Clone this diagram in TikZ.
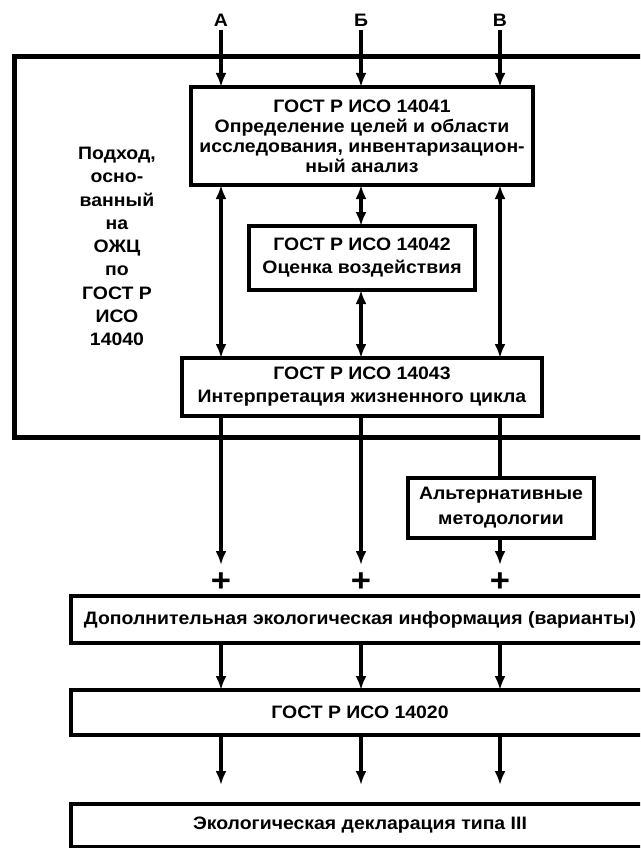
\documentclass[tikz,border=0pt]{standalone}
\usepackage{fontspec}
\setmainfont{Liberation Sans}[FakeStretch=1.08]
\usetikzlibrary{arrows.meta}
\begin{document}
\begin{tikzpicture}[x=1pt,y=-1pt,
  txt/.style={font=\fontsize{18}{20}\selectfont\bfseries, align=center},
  txtw/.style={font=\fontsize{18}{23}\selectfont\bfseries, align=center},
  box/.style={draw, line width=4pt, inner sep=0pt, outer sep=0pt},
  ln/.style={line width=4pt},
  arr/.style={ln, -{Latex[length=14pt,width=11pt]}},
  darr/.style={ln, {Latex[length=14pt,width=11pt]}-{Latex[length=14pt,width=11pt]}},
  plus/.style={font=\fontsize{32}{32}\selectfont\bfseries, inner sep=0pt}
]
\useasboundingbox (0,0) rectangle (640,848);
\clip (0,0) rectangle (640,848);
\fill[white] (0,0) rectangle (640,848);
% outer frame
\draw[line width=5pt] (14,57) rectangle (706,437);
\node[font=\fontsize{18}{23.3}\selectfont\bfseries, align=center] (left) at (117,246.5)
  {Подход,\\осно-\\ванный\\на\\ОЖЦ\\по\\ГОСТ Р\\ИСО\\14040};
% labels
\node[txt] (la) at (221,20) {А};
\node[txt] (lb) at (361,20) {Б};
\node[txt] (lc) at (500,20) {В};
% boxes
\node[box, txt, minimum width=342pt, minimum height=98pt] (b1) at (362,136)
  {ГОСТ Р ИСО 14041\\Определение целей и области\\исследования, инвентаризацион-\\ный анализ};
\node[box, txtw, minimum width=226pt, minimum height=64pt] (b2) at (362,258)
  {ГОСТ Р ИСО 14042\\Оценка воздействия};
\node[box, txtw, minimum width=360pt, minimum height=58pt] (b3) at (362,387)
  {ГОСТ Р ИСО 14043\\Интерпретация жизненного цикла};
\node[box, font=\fontsize{18}{25}\selectfont\bfseries, align=center, minimum width=186pt, minimum height=60pt] (alt) at (501,508)
  {Альтернативные\\методологии};
\node[box, txt, minimum width=578pt, minimum height=47pt] (b4) at (360,619.5)
  {Дополнительная экологическая информация (варианты)};
\node[box, txt, minimum width=578pt, minimum height=45pt] (b5) at (360,712.5)
  {ГОСТ Р ИСО 14020};
\node[box, txt, minimum width=578pt, minimum height=43pt] (b6) at (360,825.5)
  {Экологическая декларация типа III};
% plus signs
\node[plus] (pa) at (221,582) {+};
\node[plus] (pb) at (361,582) {+};
\node[plus] (pc) at (500,582) {+};
% free arrow ends
\coordinate (ea) at (221,565);
\coordinate (eb) at (361,565);
\coordinate (ec) at (500,565);
\coordinate (fa) at (221,785);
\coordinate (fb) at (361,785);
\coordinate (fc) at (500,785);
% connectors
\draw[arr] (la.south) -- (la.south |- b1.north);
\draw[arr] (lb.south) -- (lb.south |- b1.north);
\draw[arr] (lc.south) -- (lc.south |- b1.north);
\draw[darr] (b1.south -| la) -- (b3.north -| la);
\draw[darr] (b1.south -| lb) -- (b2.north -| lb);
\draw[darr] (b2.south -| lb) -- (b3.north -| lb);
\draw[darr] (b1.south -| lc) -- (b3.north -| lc);
\draw[arr] (b3.south -| la) -- (ea);
\draw[arr] (b3.south -| lb) -- (eb);
\draw[ln] (b3.south -| lc) -- (alt.north -| lc);
\draw[arr] (alt.south -| lc) -- (ec);
\draw[arr] (b4.south -| la) -- (b5.north -| la);
\draw[arr] (b4.south -| lb) -- (b5.north -| lb);
\draw[arr] (b4.south -| lc) -- (b5.north -| lc);
\draw[arr] (b5.south -| la) -- (fa);
\draw[arr] (b5.south -| lb) -- (fb);
\draw[arr] (b5.south -| lc) -- (fc);
\end{tikzpicture}
\end{document}
